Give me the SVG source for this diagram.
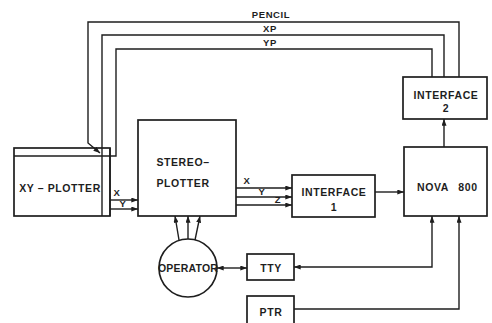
<svg xmlns="http://www.w3.org/2000/svg" width="492" height="323" viewBox="0 0 492 323">
<style>
.box{fill:none;stroke:#1e1e1e;stroke-width:1.7}
.ln{fill:none;stroke:#1e1e1e;stroke-width:1.4}
.t{font-family:"Liberation Sans",Arial,sans-serif;font-weight:bold;font-size:10.5px;fill:#1e1e1e;letter-spacing:0.6px;text-anchor:middle}
.s{font-size:9.5px}
</style>
<defs>
<marker id="a" viewBox="0 0 8 6" refX="8" refY="3" markerWidth="7" markerHeight="5" orient="auto" markerUnits="userSpaceOnUse">
<path d="M0,0 L8,3 L0,6 Z" fill="#1e1e1e"/>
</marker>
<marker id="as" viewBox="0 0 8 6" refX="0" refY="3" markerWidth="7" markerHeight="5" orient="auto" markerUnits="userSpaceOnUse">
<path d="M8,0 L0,3 L8,6 Z" fill="#1e1e1e"/>
</marker>
</defs>
<rect width="492" height="323" fill="#fff"/>
<g id="connectors">
<path class="ln" d="M459,77 V22 H88 V143 L100,153" marker-end="url(#a)"/>
<path class="ln" d="M444,77 V35 H102 V216"/>
<path class="ln" d="M432,77 V49 H116 V156 H110"/>
<text class="t s" x="271" y="18">PENCIL</text>
<text class="t s" x="270" y="32">XP</text>
<text class="t s" x="270" y="46">YP</text>
<path class="ln" d="M110,200 H138" marker-end="url(#a)"/>
<path class="ln" d="M110,209 H138" marker-end="url(#a)"/>
<text class="t s" x="117" y="196">X</text>
<text class="t s" x="123" y="207">Y</text>
<path class="ln" d="M236,188 H292" marker-end="url(#a)"/>
<path class="ln" d="M236,197 H292" marker-end="url(#a)"/>
<path class="ln" d="M236,205 H292" marker-end="url(#a)"/>
<text class="t s" x="247" y="184">X</text>
<text class="t s" x="262" y="195">Y</text>
<text class="t s" x="278" y="203">Z</text>
<path class="ln" d="M375,192 H404" marker-end="url(#a)"/>
<path class="ln" d="M444,147 V119" marker-end="url(#a)"/>
<path class="ln" d="M179,240 L175,216" marker-end="url(#a)"/>
<path class="ln" d="M188,239 V216" marker-end="url(#a)"/>
<path class="ln" d="M195,240 L200,216" marker-end="url(#a)"/>
<path class="ln" d="M217,268 H247" marker-start="url(#as)" marker-end="url(#a)"/>
<path class="ln" d="M432,216 V267 H294" marker-start="url(#as)" marker-end="url(#a)"/>
<path class="ln" d="M294,309 H459 V216" marker-end="url(#a)"/>
</g>
<g id="xy-plotter">
<rect class="box" x="14" y="148" width="96" height="68"/>
<path class="ln" d="M14,156 H110 M110,148 V216"/>
<text class="t" x="60" y="192">XY – PLOTTER</text>
</g>
<g id="stereo-plotter">
<rect class="box" x="138" y="120" width="98" height="96"/>
<text class="t" x="183" y="166">STEREO–</text>
<text class="t" x="183" y="187">PLOTTER</text>
</g>
<g id="interface1">
<rect class="box" x="292" y="175" width="83" height="42"/>
<text class="t" x="334" y="196">INTERFACE</text>
<text class="t" x="334" y="211">1</text>
</g>
<g id="interface2">
<rect class="box" x="403" y="77" width="84" height="42"/>
<text class="t" x="446" y="99">INTERFACE</text>
<text class="t" x="446" y="112">2</text>
</g>
<g id="nova">
<rect class="box" x="404" y="147" width="83" height="69"/>
<text class="t" x="433" y="191">NOVA</text>
<text class="t" x="468" y="191">800</text>
</g>
<g id="operator">
<circle class="box" cx="188" cy="268" r="29"/>
<text class="t" x="188" y="272" style="letter-spacing:0.2px">OPERATOR</text>
</g>
<g id="tty">
<rect class="box" x="247" y="254" width="47" height="26"/>
<text class="t" x="271" y="272">TTY</text>
</g>
<g id="ptr">
<rect class="box" x="247" y="296" width="47" height="30"/>
<text class="t" x="271" y="316">PTR</text>
</g>
</svg>
